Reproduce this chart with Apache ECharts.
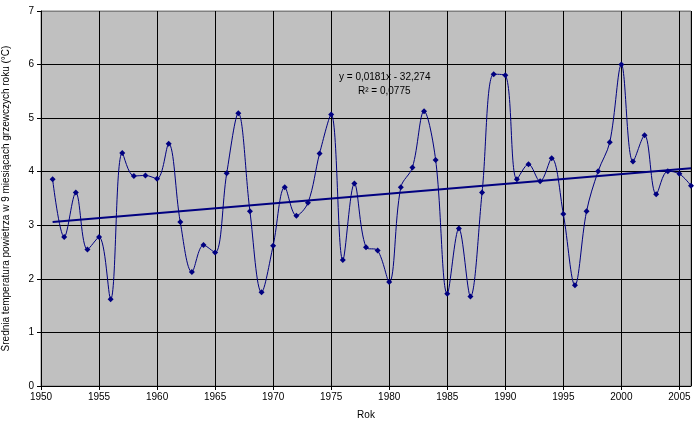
<!DOCTYPE html>
<html>
<head>
<meta charset="utf-8">
<script src="https://cdn.jsdelivr.net/npm/echarts@6/dist/echarts.min.js"></script>
<style>
    html, body { margin: 0; padding: 0; background: #fff; }
    #chart { width: 696px; height: 428px; }
</style>
</head>
<body>
<div id="chart"></div>
<script>
// dane: rok i średnia temperatura w 9 miesiącach grzewczych
const years = [
    1951, 1952, 1953, 1954, 1955, 1956, 1957, 1958, 1959, 1960,
    1961, 1962, 1963, 1964, 1965, 1966, 1967, 1968, 1969, 1970,
    1971, 1972, 1973, 1974, 1975, 1976, 1977, 1978, 1979, 1980,
    1981, 1982, 1983, 1984, 1985, 1986, 1987, 1988, 1989, 1990,
    1991, 1992, 1993, 1994, 1995, 1996, 1997, 1998, 1999, 2000,
    2001, 2002, 2003, 2004, 2005, 2006
];
const temps = [
    3.86, 2.78, 3.61, 2.55, 2.78, 1.62, 4.35, 3.92, 3.93, 3.87,
    4.52, 3.06, 2.13, 2.63, 2.49, 3.97, 5.09, 3.26, 1.75, 2.62,
    3.71, 3.18, 3.42, 4.34, 5.07, 2.35, 3.78, 2.59, 2.53, 1.94,
    3.71, 4.08, 5.13, 4.22, 1.72, 2.94, 1.67, 3.61, 5.82, 5.80,
    3.86, 4.14, 3.82, 4.25, 3.21, 1.88, 3.26, 4.01, 4.55, 6.00,
    4.19, 4.68, 3.58, 4.01, 3.96, 3.74
];
const equationText = 'y = 0,0181x - 32,274';
const r2Text = 'R² = 0,0775';

// linia trendu - regresja liniowa z danych
function linearFit(xs, ys) {
    const n = xs.length;
    let sx = 0, sy = 0, sxx = 0, sxy = 0;
    for (let i = 0; i < n; i++) {
        sx += xs[i]; sy += ys[i];
        sxx += xs[i] * xs[i]; sxy += xs[i] * ys[i];
    }
    const a = (n * sxy - sx * sy) / (n * sxx - sx * sx);
    const b = (sy - a * sx) / n;
    return { a: a, b: b };
}
const fit = linearFit(years, temps);
const x0 = years[0], x1 = years[years.length - 1];
const trendData = [[x0, fit.a * x0 + fit.b], [x1, fit.a * x1 + fit.b]];

const font = 'Liberation Sans, Arial, sans-serif';
const chart = echarts.init(document.getElementById('chart'));
chart.setOption({
    animation: false,
    grid: {
        left: 41, top: 11, right: 5, bottom: 42,
        outerBoundsMode: 'none',
        containLabel: false,
        show: true,
        backgroundColor: '#C0C0C0',
        borderColor: '#808080',
        borderWidth: 1
    },
    xAxis: {
        type: 'value',
        min: 1950, max: 2006, interval: 5,
        name: 'Rok',
        nameLocation: 'middle',
        nameGap: 24,
        nameTextStyle: { fontFamily: font, fontSize: 10, color: '#000' },
        axisLine: { lineStyle: { color: '#000', width: 1 } },
        axisTick: { show: true, length: 4, lineStyle: { color: '#000' } },
        axisLabel: {
            fontFamily: font, fontSize: 10, color: '#000', margin: 6, showMaxLabel: false,
            formatter: function(v) { return String(v); }
        },
        splitLine: { show: true, lineStyle: { color: '#000', width: 1 } }
    },
    yAxis: {
        type: 'value',
        min: 0, max: 7, interval: 1,
        name: 'Średnia temperatura powietrza w 9 miesiącach grzewczych roku (°C)',
        nameLocation: 'middle',
        nameGap: 30,
        nameTextStyle: { fontFamily: font, fontSize: 10, color: '#000' },
        axisLine: { show: true, lineStyle: { color: '#000', width: 1 } },
        axisTick: { show: true, length: 4, lineStyle: { color: '#000' } },
        axisLabel: { fontFamily: font, fontSize: 10, color: '#000', margin: 7 },
        splitLine: {
            show: true,
            lineStyle: {
                color: ['#000', '#000', '#000', '#000', '#000', '#000', '#000', '#808080'],
                width: 1
            }
        }
    },
    series: [
        {
            name: 'temperatura',
            type: 'line',
            data: years.map(function(y, i) { return [y, temps[i]]; }),
            smooth: 0.35,
            symbol: 'diamond',
            symbolSize: 6,
            lineStyle: { color: '#000080', width: 1 },
            itemStyle: { color: '#000080' },
            z: 3
        },
        {
            name: 'trend',
            type: 'line',
            data: trendData,
            symbol: 'none',
            lineStyle: { color: '#000080', width: 2 },
            z: 4
        }
    ],
    graphic: [
        {
            type: 'text',
            left: 339, top: 72,
            style: { text: equationText, font: '10px ' + font, fill: '#000' }
        },
        {
            type: 'text',
            left: 358, top: 86,
            style: { text: r2Text, font: '10px ' + font, fill: '#000' }
        }
    ]
});
</script>
</body>
</html>
